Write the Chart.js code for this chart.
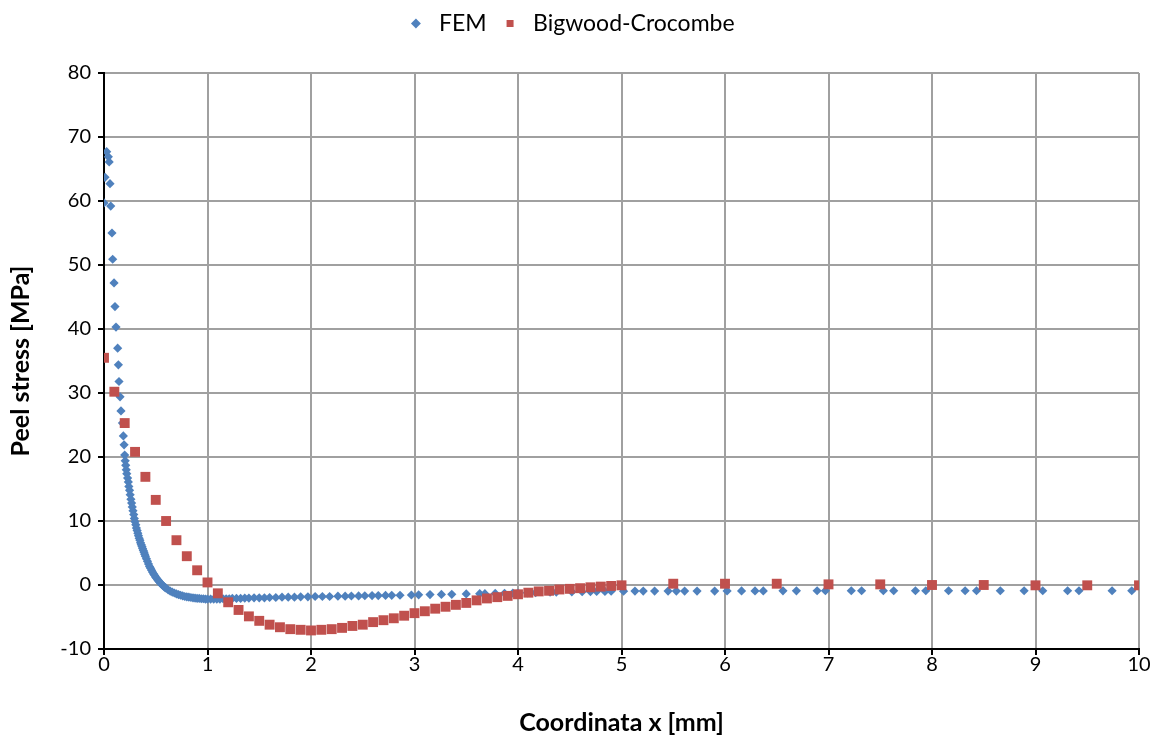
<!DOCTYPE html>
<html>
<head>
<meta charset="utf-8">
<script src="https://cdn.jsdelivr.net/npm/chart.js@4"></script>
<style>
  body { margin: 0; background: #fff; }
</style>
</head>
<body>
<canvas id="peelChart" width="1161" height="742"></canvas>
<script>
// FEM (nodi della mesh)
const femX = [0, 0.01, 0.026, 0.042, 0.05, 0.058, 0.065, 0.077, 0.084, 0.097, 0.106, 0.116,
  0.132, 0.139, 0.145, 0.155, 0.164, 0.178, 0.187, 0.194, 0.2, 0.205, 0.21, 0.215, 0.22, 0.228,
  0.235, 0.24, 0.247, 0.253, 0.26, 0.267, 0.273, 0.28, 0.287, 0.293, 0.3, 0.307, 0.313, 0.32,
  0.327, 0.333, 0.34, 0.347, 0.353, 0.36, 0.367, 0.373, 0.38, 0.387, 0.393, 0.4, 0.41, 0.42,
  0.43, 0.44, 0.45, 0.46, 0.47, 0.48, 0.49, 0.5, 0.51, 0.52, 0.53, 0.54, 0.55, 0.56, 0.57,
  0.58, 0.59, 0.6, 0.62, 0.64, 0.66, 0.68, 0.7, 0.72, 0.74, 0.76, 0.78, 0.8, 0.82, 0.84, 0.86,
  0.88, 0.9, 0.92, 0.94, 0.96, 0.98, 1.0, 1.03, 1.06, 1.09, 1.12, 1.15, 1.18, 1.21, 1.24,
  1.28, 1.32, 1.36, 1.4, 1.45, 1.5, 1.55, 1.6, 1.66, 1.72, 1.78, 1.84, 1.9, 1.97, 2.04, 2.11,
  2.18, 2.26, 2.33, 2.39, 2.46, 2.52, 2.59, 2.65, 2.72, 2.78, 2.86, 2.97, 3.04, 3.15, 3.26,
  3.36, 3.5, 3.63, 3.68, 3.78, 3.87, 3.95, 4.0, 4.09, 4.17, 4.31, 4.37, 4.52, 4.62, 4.7, 4.76,
  4.84, 4.9, 5.02, 5.13, 5.21, 5.32, 5.45, 5.53, 5.61, 5.73, 5.9, 6.02, 6.16, 6.29, 6.37,
  6.56, 6.69, 6.89, 6.97, 7.22, 7.32, 7.53, 7.63, 7.84, 7.94, 8.16, 8.32, 8.43, 8.66, 8.89,
  9.07, 9.31, 9.42, 9.74, 9.93];
const femY = [59.7, 63.7, 67.7, 66.9, 66.1, 62.7, 59.2, 55.0, 50.9, 47.2, 43.5, 40.3,
  37.0, 34.4, 31.8, 29.4, 27.2, 25.3, 23.3, 21.9, 20.3, 19.4, 18.7, 18.0, 17.4, 16.7,
  16.1, 15.4, 14.8, 14.1, 13.4, 12.8, 12.2, 11.6, 11.0, 10.4, 9.9, 9.4, 8.9, 8.5,
  8.1, 7.7, 7.3, 7.0, 6.6, 6.3, 6.0, 5.7, 5.4, 5.1, 4.8, 4.5, 4.1, 3.7,
  3.3, 2.9, 2.6, 2.3, 2.0, 1.7, 1.5, 1.2, 1.0, 0.8, 0.6, 0.4, 0.2, 0.05, -0.1,
  -0.25, -0.4, -0.5, -0.75, -0.95, -1.1, -1.25, -1.4, -1.5, -1.6, -1.7, -1.8, -1.85, -1.9, -1.95, -2.0,
  -2.05, -2.1, -2.1, -2.15, -2.15, -2.2, -2.2, -2.2, -2.2, -2.2, -2.2, -2.15, -2.15, -2.15, -2.1,
  -2.1, -2.1, -2.05, -2.05, -2.0, -2.0, -2.0, -1.95, -1.95, -1.9, -1.9, -1.9, -1.85, -1.85, -1.8, -1.8,
  -1.8, -1.75, -1.75, -1.72, -1.7, -1.68, -1.66, -1.65, -1.63, -1.61, -1.6, -1.56, -1.54, -1.5, -1.47,
  -1.45, -1.4, -1.36, -1.35, -1.32, -1.3, -1.27, -1.25, -1.22, -1.2, -1.12, -1.1, -1.06, -1.05, -1.02, -1.0,
  -1.0, -0.98, -0.96, -0.95, -0.95, -0.95, -0.95, -0.95, -0.95, -0.95, -0.95, -0.93, -0.92, -0.92, -0.92,
  -0.91, -0.91, -0.9, -0.9, -0.9, -0.9, -0.9, -0.9, -0.9, -0.9, -0.9, -0.9, -0.9, -0.9, -0.9,
  -0.9, -0.9, -0.9, -0.9, -0.9];

// Bigwood-Crocombe (soluzione analitica)
const bcX = [0, 0.1, 0.2, 0.3, 0.4, 0.5, 0.6, 0.7, 0.8, 0.9, 1.0, 1.1, 1.2, 1.3, 1.4, 1.5, 1.6,
  1.7, 1.8, 1.9, 2.0, 2.1, 2.2, 2.3, 2.4, 2.5, 2.6, 2.7, 2.8, 2.9, 3.0, 3.1, 3.2, 3.3, 3.4, 3.5,
  3.6, 3.7, 3.8, 3.9, 4.0, 4.1, 4.2, 4.3, 4.4, 4.5, 4.6, 4.7, 4.8, 4.9, 5.0,
  5.5, 6.0, 6.5, 7.0, 7.5, 8.0, 8.5, 9.0, 9.5, 10.0];
const bcY = [35.5, 30.2, 25.3, 20.8, 16.9, 13.3, 10.0, 7.0, 4.5, 2.3, 0.4, -1.3, -2.7, -3.9, -4.9, -5.6, -6.2,
  -6.6, -6.9, -7.0, -7.1, -7.0, -6.9, -6.7, -6.4, -6.2, -5.8, -5.5, -5.2, -4.8, -4.4, -4.1, -3.7, -3.4, -3.1, -2.8,
  -2.4, -2.1, -1.9, -1.7, -1.45, -1.2, -1.0, -0.9, -0.7, -0.6, -0.5, -0.36, -0.25, -0.15, -0.05,
  0.2, 0.2, 0.2, 0.1, 0.1, 0.0, 0.0, -0.05, -0.05, -0.05];

const xMin = 0, xMax = 10, xStep = 1;
const yMin = -10, yMax = 80, yStep = 10;

const fontFamily = "Lato, 'Open Sans', sans-serif";

function toPoints(xs, ys) {
    return xs.map((x, i) => ({ x: x, y: ys[i] }));
}

// altezza fissa della legenda, per allineare l'area del grafico
const legendHeight = {
    id: 'legendHeight',
    beforeInit(chart) {
        const fit = chart.legend.fit;
        chart.legend.fit = function() {
            fit.call(this);
            this.height = 73;
        };
    }
};

function createPeelChart() {
    const ctx = document.getElementById('peelChart').getContext('2d');
    new Chart(ctx, {
        type: 'scatter',
        data: {
            datasets: [{
                label: 'FEM',
                data: toPoints(femX, femY),
                pointStyle: 'rectRot',
                pointRadius: 4.6,
                pointHoverRadius: 4.6,
                backgroundColor: '#4F81BD',
                borderColor: '#4F81BD',
                borderWidth: 0,
                order: 2
            }, {
                label: 'Bigwood-Crocombe',
                data: toPoints(bcX, bcY),
                pointStyle: 'rect',
                pointRadius: 7,
                pointHoverRadius: 7,
                backgroundColor: '#C0504D',
                borderColor: '#C0504D',
                borderWidth: 0,
                order: 1
            }]
        },
        options: {
            responsive: false,
            animation: false,
            layout: { padding: { left: 0, right: 22, top: 0, bottom: 0 } },
            plugins: {
                tooltip: { enabled: false },
                legend: {
                    position: 'top',
                    labels: {
                        usePointStyle: true,
                        boxHeight: 7,
                        padding: 12,
                        color: '#000',
                        font: { family: fontFamily, size: 23 },
                        sort: (a, b) => a.datasetIndex - b.datasetIndex
                    }
                }
            },
            scales: {
                x: {
                    type: 'linear',
                    min: xMin,
                    max: xMax,
                    ticks: { stepSize: xStep, color: '#000', padding: -2,
                        font: { family: fontFamily, size: 20 } },
                    grid: { color: '#a0a0a0', lineWidth: 2, tickColor: '#000', tickWidth: 2, tickLength: 6 },
                    border: { color: '#000', width: 2 },
                    title: { display: true, text: 'Coordinata x [mm]', color: '#000',
                        font: { family: fontFamily, size: 25, weight: 'bold' } },
                    afterFit(scale) { scale.height = 93; }
                },
                y: {
                    type: 'linear',
                    min: yMin,
                    max: yMax,
                    ticks: { stepSize: yStep, color: '#000', padding: 7,
                        font: { family: fontFamily, size: 20 } },
                    grid: { color: '#a0a0a0', lineWidth: 2, tickColor: '#000', tickWidth: 2, tickLength: 6 },
                    border: { color: '#000', width: 2 },
                    title: { display: true, text: 'Peel stress [MPa]', color: '#000', padding: { top: 6, bottom: 4 },
                        font: { family: fontFamily, size: 25, weight: 'bold' } },
                    afterFit(scale) { scale.width = 104; }
                }
            }
        },
        plugins: [legendHeight]
    });
}

window.onload = function() {
    createPeelChart();
};
</script>
</body>
</html>
